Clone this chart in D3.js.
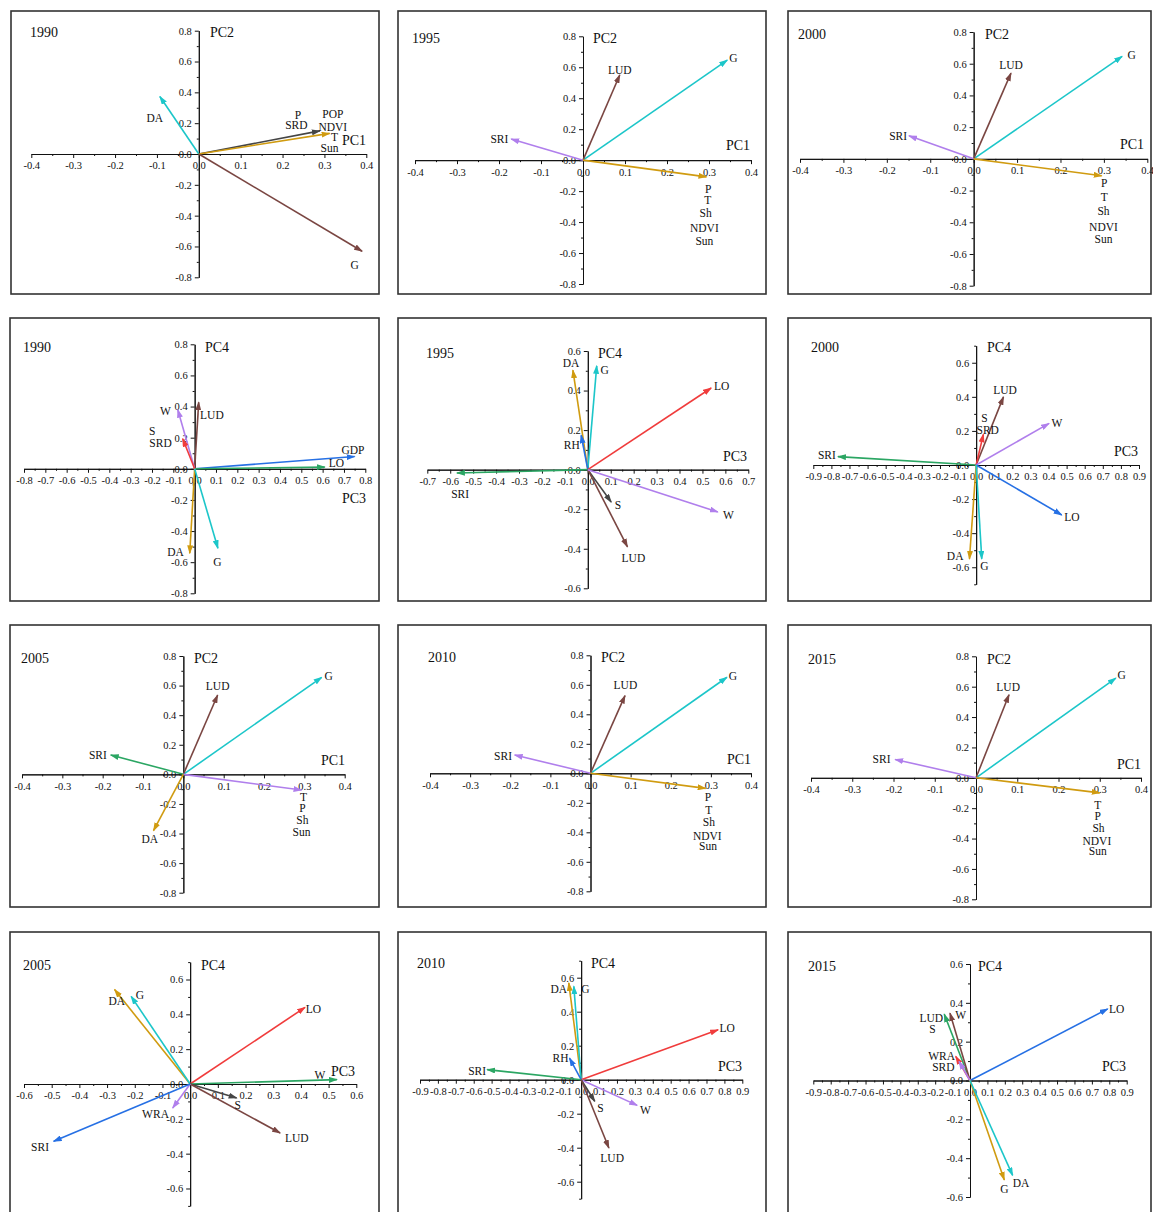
<!DOCTYPE html>
<html>
<head>
<meta charset="utf-8">
<script src="https://cdn.jsdelivr.net/npm/d3@7"></script>
<style>
body { margin: 0; background: #fff; }
svg text { font-family: "Liberation Serif", "Times New Roman", serif; fill: #111; }
</style>
</head>
<body>
<svg id="place" width="1153" height="1212"></svg>
<script>
// ---- data: loadings ----
var years = ["1990", "1995", "2000", "1990", "1995", "2000", "2005", "2010", "2015", "2005", "2010", "2015"];
var axisNames = [["PC1", "PC2"], ["PC1", "PC2"], ["PC1", "PC2"],
                 ["PC3", "PC4"], ["PC3", "PC4"], ["PC3", "PC4"],
                 ["PC1", "PC2"], ["PC1", "PC2"], ["PC1", "PC2"],
                 ["PC3", "PC4"], ["PC3", "PC4"], ["PC3", "PC4"]];
var xLimits = [[-0.4, 0.4], [-0.4, 0.4], [-0.4, 0.4],
               [-0.8, 0.8], [-0.7, 0.7], [-0.9, 0.9],
               [-0.4, 0.4], [-0.4, 0.4], [-0.4, 0.4],
               [-0.6, 0.6], [-0.9, 0.9], [-0.9, 0.9]];
var yLimits = [[-0.8, 0.8], [-0.8, 0.8], [-0.8, 0.8],
               [-0.8, 0.8], [-0.6, 0.6], [-0.7, 0.7],
               [-0.8, 0.8], [-0.8, 0.8], [-0.8, 0.8],
               [-0.7, 0.7], [-0.7, 0.7], [-0.6, 0.6]];

// vectors: [variable, x loading, y loading]
var vec1990a = [["DA", -0.093, 0.373], ["P", 0.289, 0.150], ["NDVI", 0.3125, 0.134], ["G", 0.390, -0.631]];
var vec1995a = [["G", 0.3435, 0.646], ["LUD", 0.0875, 0.55], ["SRI", -0.171, 0.136], ["P", 0.294, -0.108]];
var vec2000a = [["G", 0.342, 0.646], ["LUD", 0.086, 0.541], ["SRI", -0.149, 0.145], ["P", 0.295, -0.107]];
var vec1990b = [["GDP", 0.75, 0.079], ["LO", 0.61, 0.011], ["LUD", 0.019, 0.428], ["W", -0.079, 0.38],
                ["S", -0.056, 0.193], ["DA", -0.023, -0.543], ["G", 0.109, -0.51]];
var vec1995b = [["DA", -0.065, 0.503], ["G", 0.039, 0.525], ["RH", -0.029, 0.174], ["LO", 0.538, 0.413],
                ["SRI", -0.571, -0.017], ["S", 0.102, -0.164], ["LUD", 0.173, -0.39], ["W", 0.567, -0.214]];
var vec2000b = [["SRI", -0.764, 0.049], ["LUD", 0.151, 0.40], ["S", 0.04, 0.18], ["W", 0.403, 0.244],
                ["LO", 0.473, -0.293], ["DA", -0.037, -0.551], ["G", 0.031, -0.551]];
var vec2005a = [["G", 0.343, 0.656], ["LUD", 0.085, 0.536], ["SRI", -0.18, 0.131], ["T", 0.293, -0.106], ["DA", -0.074, -0.381]];
var vec2010a = [["G", 0.34, 0.651], ["LUD", 0.086, 0.527], ["SRI", -0.189, 0.124], ["P", 0.287, -0.102]];
var vec2015a = [["G", 0.339, 0.656], ["LUD", 0.08, 0.547], ["SRI", -0.196, 0.121], ["T", 0.30, -0.099]];
var vec2005b = [["DA", -0.273, 0.542], ["G", -0.213, 0.503], ["LO", 0.415, 0.44], ["W", 0.53, 0.025],
                ["S", 0.168, -0.08], ["LUD", 0.325, -0.281], ["WRA", -0.063, -0.138], ["SRI", -0.493, -0.329]];
var vec2010b = [["DA", -0.069, 0.569], ["G", -0.041, 0.549], ["RH", -0.065, 0.127], ["SRI", -0.525, 0.059],
                ["LO", 0.765, 0.294], ["W", 0.313, -0.151], ["S", 0.076, -0.127], ["LUD", 0.155, -0.402]];
var vec2015b = [["LO", 0.791, 0.369], ["LUD", -0.148, 0.342], ["W", -0.115, 0.347], ["WRA", -0.082, 0.124],
                ["SRD", -0.063, 0.098], ["G", 0.197, -0.512], ["DA", 0.245, -0.489]];

// label anchors in loading units: [text, x, y]
var lab1990a = [["DA", -0.105, 0.232], ["P", 0.237, 0.254], ["SRD", 0.233, 0.189], ["POP", 0.320, 0.262],
                ["NDVI", 0.320, 0.178], ["T", 0.324, 0.112], ["Sun", 0.312, 0.036], ["G", 0.372, -0.718]];
var lab1995a = [["G", 0.358, 0.658], ["LUD", 0.0875, 0.582], ["SRI", -0.199, 0.136], ["P", 0.298, -0.183],
                ["T", 0.297, -0.259], ["Sh", 0.292, -0.339], ["NDVI", 0.289, -0.438], ["Sun", 0.289, -0.524]];
var lab2000a = [["G", 0.364, 0.657], ["LUD", 0.086, 0.594], ["SRI", -0.174, 0.145], ["P", 0.301, -0.154],
                ["T", 0.301, -0.238], ["Sh", 0.299, -0.328], ["NDVI", 0.299, -0.427], ["Sun", 0.299, -0.507]];
var lab1990b = [["GDP", 0.742, 0.122], ["LO", 0.665, 0.036], ["LUD", 0.081, 0.347], ["W", -0.137, 0.369],
                ["S", -0.199, 0.240], ["SRD", -0.160, 0.165], ["DA", -0.090, -0.532], ["G", 0.107, -0.596]];
var lab1995b = [["DA", -0.073, 0.540], ["G", 0.073, 0.506], ["RH", -0.070, 0.123], ["LO", 0.584, 0.422],
                ["SRI", -0.557, -0.122], ["S", 0.131, -0.177], ["LUD", 0.199, -0.447], ["W", 0.613, -0.231]];
var lab2000b = [["SRI", -0.825, 0.059], ["LUD", 0.160, 0.440], ["S", 0.046, 0.278], ["SRD", 0.064, 0.205],
                ["W", 0.446, 0.244], ["LO", 0.529, -0.303], ["DA", -0.116, -0.532], ["G", 0.046, -0.590]];
var lab2005a = [["G", 0.360, 0.667], ["LUD", 0.085, 0.599], ["SRI", -0.212, 0.131], ["T", 0.298, -0.155],
                ["P", 0.295, -0.230], ["Sh", 0.295, -0.309], ["Sun", 0.293, -0.388], ["DA", -0.083, -0.437]];
var lab2010a = [["G", 0.355, 0.662], ["LUD", 0.087, 0.599], ["SRI", -0.218, 0.120], ["P", 0.293, -0.163],
                ["T", 0.295, -0.246], ["Sh", 0.295, -0.332], ["NDVI", 0.291, -0.423], ["Sun", 0.293, -0.495]];
var lab2015a = [["G", 0.353, 0.674], ["LUD", 0.078, 0.597], ["SRI", -0.229, 0.121], ["T", 0.295, -0.178],
                ["P", 0.295, -0.252], ["Sh", 0.297, -0.332], ["NDVI", 0.293, -0.413], ["Sun", 0.295, -0.485]];
var lab2005b = [["DA", -0.265, 0.478], ["G", -0.181, 0.513], ["LO", 0.445, 0.431], ["W", 0.469, 0.050],
                ["S", 0.172, -0.119], ["LUD", 0.385, -0.310], ["WRA", -0.125, -0.170], ["SRI", -0.542, -0.364]];
var lab2010b = [["DA", -0.125, 0.535], ["G", 0.024, 0.535], ["RH", -0.115, 0.127], ["SRI", -0.581, 0.053],
                ["LO", 0.816, 0.304], ["W", 0.359, -0.176], ["S", 0.108, -0.167], ["LUD", 0.173, -0.461]];
var lab2015b = [["LO", 0.843, 0.369], ["LUD", -0.222, 0.324], ["S", -0.215, 0.264], ["W", -0.054, 0.335],
                ["WRA", -0.163, 0.127], ["SRD", -0.153, 0.072], ["G", 0.197, -0.558], ["DA", 0.293, -0.529]];

var vectors = [vec1990a, vec1995a, vec2000a, vec1990b, vec1995b, vec2000b,
               vec2005a, vec2010a, vec2015a, vec2005b, vec2010b, vec2015b];
var labels = [lab1990a, lab1995a, lab2000a, lab1990b, lab1995b, lab2000b,
              lab2005a, lab2010a, lab2015a, lab2005b, lab2010b, lab2015b];

// ---- styles / layout ----
var palette = {cyan: "#1cc6c9", gold: "#d09b10", brown: "#7a4642", gray: "#454545",
               purple: "#b07fec", green: "#2ba663", red: "#f03c3c", blue: "#2670e4"};
var arrowColors = [
    ["cyan", "gray", "gold", "brown"],
    ["cyan", "brown", "purple", "gold"],
    ["cyan", "brown", "purple", "gold"],
    ["blue", "green", "brown", "purple", "red", "gold", "cyan"],
    ["gold", "cyan", "blue", "red", "green", "gray", "brown", "purple"],
    ["green", "brown", "red", "purple", "blue", "gold", "cyan"],
    ["cyan", "brown", "green", "purple", "gold"],
    ["cyan", "brown", "purple", "gold"],
    ["cyan", "brown", "purple", "gold"],
    ["gold", "cyan", "red", "green", "gray", "brown", "purple", "blue"],
    ["gold", "cyan", "blue", "green", "red", "purple", "gray", "brown"],
    ["blue", "green", "brown", "red", "purple", "gold", "cyan"]
];
var frames = [[11, 11, 379, 294], [398, 11, 766, 294], [788, 11, 1151, 294],
              [10, 318, 379, 601], [398, 318, 766, 601], [788, 318, 1151, 601],
              [10, 625, 379, 907], [398, 625, 766, 907], [788, 625, 1151, 907],
              [10, 932, 379, 1222], [398, 932, 766, 1222], [788, 932, 1151, 1222]];
var xRanges = [[31.3, 366.3], [415, 751], [800, 1147.3], [24, 365.3], [427.3, 748.3], [813.3, 1139],
               [22, 344.7], [430, 751], [811, 1141], [24, 356.3], [420, 742.3], [813.3, 1126.7]];
var yRanges = [[277.3, 30.7], [284, 36.3], [285.7, 32], [593.3, 344.3], [588.3, 351], [584.3, 345.7],
               [892.7, 656], [891.3, 655.3], [899.3, 656.3], [1205.9, 962.1], [1198.7, 960.7], [1197, 964]];
var yearPos = [[30, 37], [412, 43], [798, 39], [23, 352], [426, 358], [811, 352],
               [21, 663], [428, 662], [808, 664], [23, 970], [417, 968], [808, 971]];
var yNamePos = [[210, 37], [593, 43], [985, 39], [205, 352], [598, 358], [987, 352],
                [194, 663], [601, 662], [987, 664], [201, 970], [591, 968], [978, 971]];
var xNamePos = [[342, 145], [726, 150], [1120, 149], [342, 503], [723, 461], [1114, 456],
                [321, 765], [727, 764], [1117, 769], [331, 1076], [718, 1071], [1102, 1071]];

var svg = d3.select("#place");

// one arrowhead marker per colour
var defs = svg.append("defs");
Object.keys(palette).forEach(function(k) {
    defs.append("marker")
        .attr("id", "head-" + k)
        .attr("markerUnits", "userSpaceOnUse")
        .attr("markerWidth", 9).attr("markerHeight", 6)
        .attr("refX", 8).attr("refY", 3)
        .attr("orient", "auto")
        .append("path")
        .attr("d", "M0,0 L9,3 L0,6 Z")
        .attr("fill", palette[k]);
});

var fmt = function(d) {
    var v = Math.round(d * 10) / 10;
    if (v === 0) return "0.0";
    return (v < 0 ? "-" : "") + Math.abs(v).toFixed(1);
};

var steps = function(lim, step) {
    var out = [], n0 = Math.ceil(lim[0] / step - 1e-6), n1 = Math.floor(lim[1] / step + 1e-6);
    for (var n = n0; n <= n1; n++) out.push(Math.round(n * step * 1000) / 1000);
    return out;
};

var drawPanel = function(i) {
    var f = frames[i];
    var g = svg.append("g").attr("class", "panel");

    g.append("rect")
        .attr("x", f[0]).attr("y", f[1])
        .attr("width", f[2] - f[0]).attr("height", f[3] - f[1])
        .attr("fill", "none").attr("stroke", "#333").attr("stroke-width", 1.6);

    var x = d3.scaleLinear().domain(xLimits[i]).range(xRanges[i]);
    var y = d3.scaleLinear().domain(yLimits[i]).range(yRanges[i]);

    var xMajor = steps(xLimits[i], 0.1);
    var xMinor = steps(xLimits[i], 0.05).filter(function(v) { return xMajor.indexOf(v) < 0; });
    var yMajor = steps(yLimits[i], 0.2);
    var yMinor = steps(yLimits[i], 0.1).filter(function(v) { return yMajor.indexOf(v) < 0; });

    var xg = g.append("g").attr("transform", "translate(0," + y(0) + ")");
    xg.call(d3.axisBottom(x).tickValues(xMinor).tickSize(2).tickSizeOuter(0).tickFormat(""));
    xg.append("g").call(d3.axisBottom(x).tickValues(xMajor).tickSize(4).tickSizeOuter(0)
        .tickPadding(4).tickFormat(fmt));

    var yg = g.append("g").attr("transform", "translate(" + x(0) + ",0)");
    yg.call(d3.axisLeft(y).tickValues(yMinor).tickSize(2).tickSizeOuter(0).tickFormat(""));
    yg.append("g").call(d3.axisLeft(y).tickValues(yMajor).tickSize(4).tickSizeOuter(0)
        .tickPadding(3).tickFormat(fmt));

    g.selectAll(".tick text")
        .style("font-family", "'Liberation Serif', serif")
        .style("font-size", "10.5px").attr("fill", "#111");
    g.selectAll(".domain, .tick line").attr("stroke", "#111");

    // loading vectors
    g.selectAll("line.vec")
        .data(vectors[i])
        .enter().append("line")
        .attr("class", "vec")
        .attr("x1", x(0)).attr("y1", y(0))
        .attr("x2", function(d) { return x(d[1]); })
        .attr("y2", function(d) { return y(d[2]); })
        .attr("stroke", function(d, j) { return palette[arrowColors[i][j]]; })
        .attr("stroke-width", 1.6)
        .attr("marker-end", function(d, j) { return "url(#head-" + arrowColors[i][j] + ")"; });

    g.selectAll("text.lab")
        .data(labels[i])
        .enter().append("text")
        .attr("class", "lab")
        .attr("x", function(d) { return x(d[1]); })
        .attr("y", function(d) { return y(d[2]); })
        .attr("dy", "0.35em")
        .attr("text-anchor", "middle")
        .style("font-size", "11.5px")
        .text(function(d) { return d[0]; });

    g.append("text")
        .attr("x", yearPos[i][0]).attr("y", yearPos[i][1])
        .style("font-size", "14px")
        .text(years[i]);
    g.append("text")
        .attr("x", yNamePos[i][0]).attr("y", yNamePos[i][1])
        .style("font-size", "14px")
        .text(axisNames[i][1]);
    g.append("text")
        .attr("x", xNamePos[i][0]).attr("y", xNamePos[i][1])
        .style("font-size", "14px")
        .text(axisNames[i][0]);
};

for (var p = 0; p < years.length; p++) {
    drawPanel(p);
}
</script>
</body>
</html>
